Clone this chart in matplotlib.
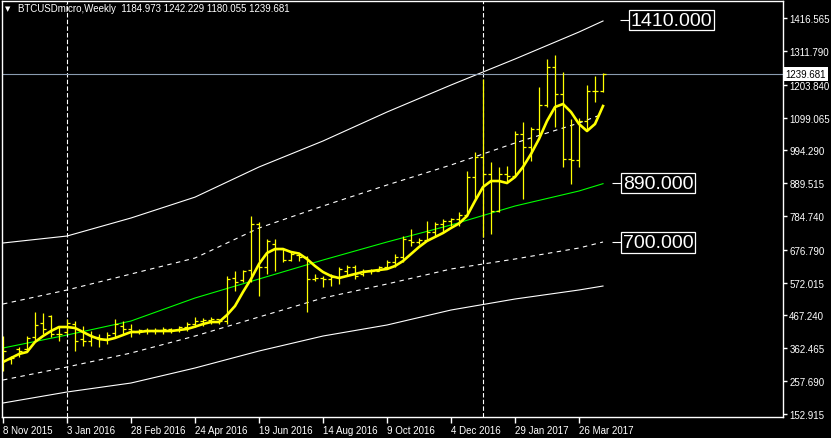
import numpy as np
import matplotlib.pyplot as plt
from matplotlib.transforms import blended_transform_factory

plt.rcParams['font.family'] = ['Liberation Sans', 'DejaVu Sans']

### weekly OHLC bars, 8 Nov 2015 .. 16 Apr 2017

opens = [302.1, 327.6, 359.6, 359.6, 398.0, 442.7, 465.1, 407.5, 413.9, 439.5,
         391.6, 385.2, 398.0, 391.6, 410.7, 433.1, 423.5, 417.1, 420.3, 417.1,
         420.3, 423.5, 420.3, 429.9, 439.5, 449.1, 452.3, 455.5, 449.1, 586.5,
         580.1, 612.1, 759.1, 621.7, 695.2, 679.2, 644.0, 660.0, 653.6, 583.3,
         586.5, 583.3, 589.7, 608.9, 621.7, 599.3, 608.9, 608.9, 621.7, 637.6,
         653.6, 708.0, 701.6, 708.0, 733.5, 759.1, 768.7, 775.1, 787.9, 909.3,
         973.2, 918.9, 800.6, 918.9, 912.5, 1046.7, 1005.2, 1062.7, 1139.4, 1260.9,
         1174.6, 966.8, 963.6, 1088.3, 1184.2, 1184.973]
highs = [401.1, 337.2, 366.0, 401.1, 477.9, 474.7, 468.3, 433.1, 455.5, 449.1,
         433.1, 417.1, 407.5, 413.9, 455.5, 449.1, 439.5, 423.5, 426.7, 426.7,
         429.9, 426.7, 433.1, 445.9, 461.9, 458.7, 461.9, 455.5, 592.9, 608.9,
         612.1, 784.7, 765.5, 711.2, 711.2, 679.2, 669.6, 666.4, 656.8, 599.3,
         592.9, 599.3, 621.7, 628.1, 628.1, 615.3, 615.3, 624.9, 644.0, 663.2,
         720.7, 743.1, 714.4, 768.7, 765.5, 775.1, 778.3, 797.5, 928.5, 989.2,
         1222.5, 957.2, 941.3, 944.5, 1056.3, 1085.1, 1069.1, 1197.0, 1286.4, 1299.2,
         1244.9, 1094.7, 1097.9, 1203.3, 1232.1, 1242.229]
lows = [289.3, 311.7, 334.0, 353.2, 382.0, 407.5, 398.0, 385.2, 407.5, 353.2,
        369.2, 369.2, 366.0, 375.6, 398.0, 407.5, 398.0, 407.5, 407.5, 407.5,
        407.5, 410.7, 413.9, 417.1, 429.9, 433.1, 439.5, 439.5, 439.5, 545.0,
        573.7, 573.7, 529.0, 599.3, 608.9, 637.6, 640.8, 640.8, 477.9, 576.9,
        557.7, 560.9, 567.3, 592.9, 583.3, 592.9, 599.3, 608.9, 615.3, 621.7,
        637.6, 688.8, 695.2, 704.8, 720.7, 733.5, 752.7, 752.7, 784.7, 839.0,
        717.6, 727.1, 797.5, 893.3, 912.5, 839.0, 960.4, 1040.3, 1133.0, 1069.1,
        941.3, 886.9, 941.3, 1062.7, 1149.0, 1180.055]
closes = [353.2, 330.8, 353.2, 394.8, 436.3, 423.5, 407.5, 407.5, 442.7, 385.2,
          385.2, 398.0, 391.6, 404.3, 439.5, 423.5, 417.1, 420.3, 417.1, 420.3,
          423.5, 420.3, 429.9, 439.5, 449.1, 452.3, 455.5, 449.1, 583.3, 573.7,
          608.9, 759.1, 621.7, 704.8, 679.2, 644.0, 663.2, 653.6, 583.3, 586.5,
          583.3, 589.7, 615.3, 621.7, 592.9, 608.9, 608.9, 621.7, 637.6, 653.6,
          711.2, 701.6, 708.0, 733.5, 759.1, 768.7, 775.1, 787.9, 909.3, 973.2,
          918.9, 800.6, 918.9, 912.5, 1046.7, 1005.2, 1062.7, 1139.4, 1260.9, 1174.6,
          966.8, 963.6, 1088.3, 1184.2, 1184.2, 1239.681]

# smoothed yellow average, one value per bar
ma_fast = [318.0, 330.8, 343.6, 350.0, 382.0, 401.1, 417.1, 429.9, 429.9, 426.7,
           413.9, 401.1, 391.6, 388.4, 394.8, 404.3, 413.9, 413.9, 417.1, 417.1,
           417.1, 417.1, 420.3, 423.5, 431.0, 439.5, 445.9, 445.9, 468.3, 497.0,
           541.8, 583.3, 631.3, 666.4, 679.2, 679.2, 669.6, 664.8, 647.2, 624.9,
           605.7, 592.9, 586.5, 592.9, 599.3, 605.7, 608.9, 612.1, 615.3, 624.9,
           640.8, 663.2, 685.6, 704.8, 717.6, 730.3, 746.3, 760.7, 784.7, 832.6,
           877.3, 896.5, 896.5, 890.1, 909.3, 941.3, 982.8, 1030.8, 1088.3, 1133.0,
           1142.6, 1117.0, 1078.7, 1056.3, 1078.7, 1136.2]

# slow average and envelopes, read every 8 bars
env_bars = [0, 8, 16, 24, 32, 40, 48, 56, 64, 72, 75]
ma_slow = [362.8, 404.3, 449.1, 522.6, 583.3, 644.0, 701.6, 755.9, 816.6, 864.6, 888.0]
env_up_inner = [503.4, 548.2, 599.3, 650.4, 746.3, 816.6, 883.7, 947.7, 1018.0, 1081.9, 1110.7]
env_up_outer = [698.4, 720.7, 778.3, 845.0, 941.3, 1024.4, 1117.0, 1203.3, 1286.4, 1372.7, 1407.9]
env_dn_inner = [260.5, 302.1, 346.8, 401.1, 461.9, 522.6, 567.3, 615.3, 647.2, 682.4, 701.6]
env_dn_outer = [187.0, 222.2, 250.9, 298.9, 353.2, 401.1, 436.3, 484.2, 519.4, 548.2, 560.9]

xtick_bars = [0, 8, 16, 24, 32, 40, 48, 56, 64, 72]
xtick_labels = ['8 Nov 2015', '3 Jan 2016', '28 Feb 2016', '24 Apr 2016', '19 Jun 2016',
                '14 Aug 2016', '9 Oct 2016', '4 Dec 2016', '29 Jan 2017', '26 Mar 2017']
ytick_labels = ['1416.565', '1311.790', '1203.840', '1099.065', '994.290', '889.515',
                '784.740', '676.790', '572.015', '467.240', '362.465', '257.690', '152.915']
year_breaks = [8, 60]
levels = [1410.0, 890.0, 700.0]
last_price = 1239.681

### figure setup

fig = plt.figure(figsize=(8.31, 4.39), dpi=100, facecolor='black')
ax = fig.add_axes([2 / 831, 21 / 439, 781 / 831, 416 / 439])
ax.set_facecolor('black')
ax.set_xlim(-0.125, 97.5)
ax.set_ylim(142.3, 1471.8)

for s in ax.spines.values():
    s.set_color('white')
    s.set_linewidth(1)

# envelopes
ax.plot(env_bars, env_up_outer, color='white', lw=0.8)
ax.plot(env_bars, env_dn_outer, color='white', lw=0.8)
ax.plot(env_bars, env_up_inner, color='white', lw=0.8, linestyle=(0, (4, 4)))
ax.plot(env_bars, env_dn_inner, color='white', lw=0.8, linestyle=(0, (4, 4)))
ax.plot(env_bars, ma_slow, color='#00ff00', lw=0.8)

# year separators
for b in year_breaks:
    ax.axvline(b, color='white', lw=0.8, linestyle=(0, (4, 2)))

# last price line
ax.axhline(last_price, color='#8a9bb0', lw=0.8)

# OHLC bars
xs = np.arange(len(opens))
ax.vlines(xs, lows, highs, color='#ffff00', lw=0.9)
ax.hlines(opens, xs - 0.38, xs, color='#ffff00', lw=0.9)
ax.hlines(closes, xs, xs + 0.38, color='#ffff00', lw=0.9)

ax.plot(xs, ma_fast, color='#ffff00', lw=1.9)

# level labels with short connectors
lvl_text_x = [78.5, 77.5, 77.5]
lvl_line = [(77.1, 78.4), (76.1, 77.4), (76.1, 77.4)]
for v, tx, (x0, x1) in zip(levels, lvl_text_x, lvl_line):
    ax.hlines(v, x0, x1, color='white', lw=0.8)
    ax.text(tx, v, '%.3f' % v, color='white', fontsize=14, ha='left', va='center',
            bbox=dict(boxstyle='square,pad=0.08', fc='black', ec='white', lw=0.9))

### axes ticks

ax.set_xticks(xtick_bars)
ax.set_xticklabels(xtick_labels)
for t in ax.get_xticklabels():
    t.set_ha('left')
ax.tick_params(axis='x', colors='white', length=4, width=1, labelsize=7, pad=1.5)

ax.yaxis.tick_right()
ax.set_yticks([float(v) for v in ytick_labels])
ax.set_yticklabels(ytick_labels)
ax.tick_params(axis='y', colors='white', length=3, width=1, labelsize=7, pad=1.5)

# price tag on the right scale
trans = blended_transform_factory(ax.transAxes, ax.transData)
ax.text(1.003, last_price, '%.3f' % last_price, transform=trans, color='black',
        fontsize=7, ha='left', va='center', zorder=5,
        bbox=dict(boxstyle='square,pad=0.2', fc='white', ec='none'))

# header
fig.text(8 / 831, 1 - 9 / 439, '\u25bc', color='white', fontsize=5,
         ha='center', va='center', family='DejaVu Sans')
fig.text(18 / 831, 1 - 9 / 439,
         'BTCUSDmicro,Weekly  1184.973 1242.229 1180.055 1239.681',
         color='white', fontsize=7, ha='left', va='center')

plt.savefig('out.png', dpi=100, facecolor='black')
